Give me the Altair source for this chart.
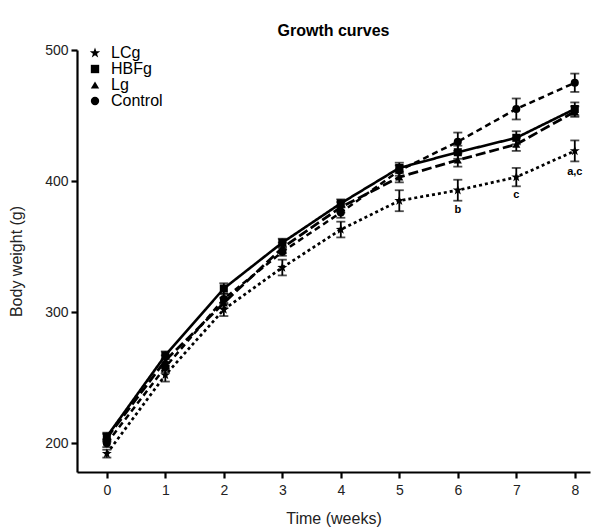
import altair as alt
import pandas as pd

weeks = [0, 1, 2, 3, 4, 5, 6, 7, 8]
groups = ["LCg", "HBFg", "Lg", "Control"]

lcg = [192, 252, 302, 334, 363, 385, 393, 403, 423]
hbfg = [205, 267, 318, 353, 383, 410, 422, 433, 455]
lg = [204, 263, 307, 349, 380, 403, 416, 428, 453]
control = [200, 258, 310, 346, 376, 408, 430, 455, 475]

lcg_err = [3, 5, 5, 6, 6, 8, 8, 7, 8]
hbfg_err = [3, 3, 4, 3, 3, 4, 5, 5, 5]
lg_err = [3, 4, 4, 4, 4, 4, 5, 5, 4]
control_err = [3, 4, 4, 3, 4, 4, 7, 8, 7]

ann_weeks = [6, 7, 8]
ann_values = [378, 389, 407]
ann_text = ["b", "c", "a,c"]

rows = []
for g, vals, errs in [("LCg", lcg, lcg_err), ("HBFg", hbfg, hbfg_err),
                      ("Lg", lg, lg_err), ("Control", control, control_err)]:
    for w, v, e in zip(weeks, vals, errs):
        rows.append({"week": w, "group": g, "weight": v, "lo": v - e, "hi": v + e})
df = pd.DataFrame(rows)
ann = pd.DataFrame({"week": ann_weeks, "weight": ann_values, "label": ann_text})

FONT = "Liberation Sans"
STAR = ("M0,-1.3L0.31,-0.42L1.24,-0.4L0.49,0.16L0.76,1.05L0,0.52"
        "L-0.76,1.05L-0.49,0.16L-1.24,-0.4L-0.31,-0.42Z")
xscale = alt.Scale(domain=[-0.51, 8.26], nice=False, zero=False)
yscale = alt.Scale(domain=[178, 500], nice=False, zero=False)

xenc = alt.X("week:Q", scale=xscale,
             axis=alt.Axis(values=weeks, title="Time (weeks)", format="d"))
# data-driven (alphabetical) domains: Control, HBFg, LCg, Lg
dash_scale = alt.Scale(range=[[6, 4], [1, 0], [3, 3], [10, 4]])
width_scale = alt.Scale(range=[2.5, 2.8, 2.5, 2.5])
shape_scale = alt.Scale(domain=groups, range=[STAR, "square", "triangle-up", "circle"])

base = alt.Chart(df)

lines = base.mark_line(color="black").encode(
    x=xenc,
    y=alt.Y("weight:Q", scale=yscale,
            axis=alt.Axis(values=[200, 300, 400, 500], title="Body weight (g)")),
    detail="group:N",
    strokeDash=alt.StrokeDash("group:N", scale=dash_scale, legend=None),
    strokeWidth=alt.StrokeWidth("group:N", scale=width_scale, legend=None),
)

errs = base.mark_errorbar(ticks={"size": 9, "thickness": 1.8}, color="black", thickness=1.8).encode(
    x=xenc,
    y=alt.Y("lo:Q", scale=yscale, title="Body weight (g)"),
    y2="hi:Q",
)

points = base.mark_point(filled=True, color="black", opacity=1).encode(
    x=xenc,
    y=alt.Y("weight:Q", scale=yscale),
    shape=alt.Shape("group:N", scale=shape_scale,
                    legend=alt.Legend(title=None, orient="none", legendX=10, legendY=-5,
                                      labelFontSize=16, labelFont=FONT, symbolSize=70,
                                      symbolFillColor="black", symbolStrokeColor="black",
                                      rowPadding=-1, labelOffset=8, labelColor="black")),
    size=alt.value(65),
)

texts = alt.Chart(ann).mark_text(fontWeight="bold", fontSize=11, font=FONT, color="black").encode(
    x=alt.X("week:Q", scale=xscale),
    y=alt.Y("weight:Q", scale=yscale),
    text="label:N",
)

chart = alt.layer(lines, errs, points, texts).properties(
    width=513, height=422,
    title=alt.TitleParams("Growth curves", fontSize=16, fontWeight="bold", font=FONT,
                          color="black", offset=4),
    autosize=alt.AutoSizeParams(type="none"),
    padding={"left": 69, "top": 42, "right": 13, "bottom": 58},
).configure_view(stroke=None).configure_axis(
    grid=False, domainColor="black", domainWidth=2.2, tickColor="black", tickWidth=2.2,
    tickSize=6, labelFont=FONT, labelFontSize=14, labelColor="#222",
    titleFont=FONT, titleFontSize=16, titleFontWeight="normal", titleColor="#222",
).configure_axisY(titlePadding=20, labelPadding=3).configure_axisX(titlePadding=13, labelPadding=5)

chart.save("out.html", embed_options={"renderer": "svg", "actions": False})
